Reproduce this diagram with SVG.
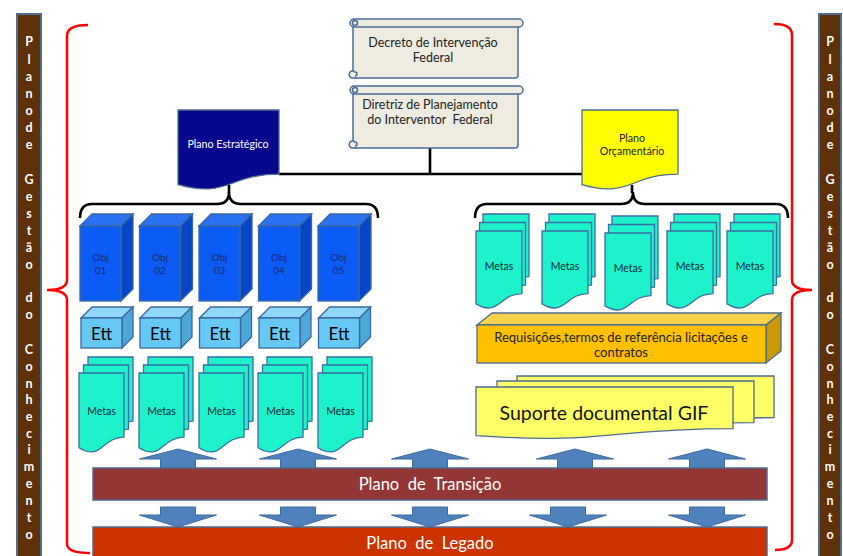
<svg xmlns="http://www.w3.org/2000/svg" xmlns:xlink="http://www.w3.org/1999/xlink" width="843" height="556" viewBox="0 0 843 556">
<style>
  .bar{fill:#5E3108;stroke:#4F6B8F;stroke-width:2}
  .barT{font-family:Lato,"Liberation Sans",sans-serif;font-weight:bold;font-size:12.5px;fill:#fff;text-anchor:middle}
  .scroll{fill:#EEECE1;stroke:#4A6C9B;stroke-width:1.5}
  .t{font-family:Lato,"Liberation Sans",sans-serif;text-anchor:middle}
  .blk{fill:none;stroke:#000;stroke-width:2.6}
  .red{fill:none;stroke:#FF0000;stroke-width:2.5}
  .bs{stroke:#3A67A0;stroke-width:1.3}
  .objF{fill:#0A5CF5}.objT{fill:#2A72F2}.objS{fill:#0846C8}
  .ettF{fill:#66C8F5}.ettT{fill:#8FD8FA}.ettS{fill:#4BA8D8}
  .meta{fill:#1DF2CB;stroke:#3A6EA5;stroke-width:1.3}
  .arr{fill:#4F81BD;stroke:#3C6AA0;stroke-width:1}
  .ot{font-size:10px;fill:#1B2A6B}
  .mt{font-size:10.5px;fill:#10283F}
</style>
<defs>
  <path id="docL" d="M0,0 H45 V64.2 C22.5,64.2 22.5,88.6 0,74.7 Z"/>
  <path id="docR" d="M0,0 H46 V62.6 C23,62.6 23,86.3 0,72.9 Z"/>
  <path id="docS" d="M0,0 H257 V41.7 C128.5,41.7 128.5,57.6 0,48.6 Z"/>
  <g id="metasL">
    <use xlink:href="#docL" class="meta" transform="translate(9,-16)"/>
    <use xlink:href="#docL" class="meta" transform="translate(4.5,-8)"/>
    <use xlink:href="#docL" class="meta"/>
  </g>
  <g id="metasR">
    <use xlink:href="#docR" class="meta" transform="translate(7,-17)"/>
    <use xlink:href="#docR" class="meta" transform="translate(3.5,-8.5)"/>
    <use xlink:href="#docR" class="meta"/>
  </g>
  <g id="objBox">
    <polygon class="objT bs" points="0,0 12,-12 53,-12 41,0"/>
    <polygon class="objS bs" points="41,0 53,-12 53,63 41,75"/>
    <rect class="objF bs" x="0" y="0" width="41" height="75"/>
  </g>
  <g id="ettBox">
    <polygon class="ettT bs" points="0,0 11,-11 52,-11 41,0"/>
    <polygon class="ettS bs" points="41,0 52,-11 52,19 41,30"/>
    <rect class="ettF bs" x="0" y="0" width="41" height="30"/>
  </g>
  <polygon id="upA" class="arr" points="-38.5,459 0,449 38.5,459 17.5,459 17.5,468 -17.5,468 -17.5,459"/>
  <polygon id="dnA" class="arr" points="-17.5,507 17.5,507 17.5,515 38.5,515 0,527 -38.5,515 -17.5,515"/>
</defs>
<rect width="843" height="556" fill="#fff"/>

<g id="bar-left">
  <rect class="bar" x="17" y="14" width="24" height="552"/>
  <text class="barT"><tspan x="29" y="46">P</tspan><tspan x="29" y="64">l</tspan><tspan x="29" y="81">a</tspan><tspan x="29" y="98">n</tspan><tspan x="29" y="115">o</tspan><tspan x="29" y="132">d</tspan><tspan x="29" y="149">e</tspan><tspan x="29" y="184">G</tspan><tspan x="29" y="201">e</tspan><tspan x="29" y="218">s</tspan><tspan x="29" y="235">t</tspan><tspan x="29" y="252">ã</tspan><tspan x="29" y="269">o</tspan><tspan x="29" y="302">d</tspan><tspan x="29" y="319">o</tspan><tspan x="29" y="354">C</tspan><tspan x="29" y="371">o</tspan><tspan x="29" y="388">n</tspan><tspan x="29" y="404">h</tspan><tspan x="29" y="421">e</tspan><tspan x="29" y="438">c</tspan><tspan x="29" y="454">i</tspan><tspan x="29" y="471">m</tspan><tspan x="29" y="488">e</tspan><tspan x="29" y="505">n</tspan><tspan x="29" y="522">t</tspan><tspan x="29" y="539">o</tspan></text>
</g>
<g id="bar-right">
  <rect class="bar" x="819" y="14" width="22" height="552"/>
  <text class="barT"><tspan x="830" y="46">P</tspan><tspan x="830" y="64">l</tspan><tspan x="830" y="81">a</tspan><tspan x="830" y="98">n</tspan><tspan x="830" y="115">o</tspan><tspan x="830" y="132">d</tspan><tspan x="830" y="149">e</tspan><tspan x="830" y="184">G</tspan><tspan x="830" y="201">e</tspan><tspan x="830" y="218">s</tspan><tspan x="830" y="235">t</tspan><tspan x="830" y="252">ã</tspan><tspan x="830" y="269">o</tspan><tspan x="830" y="302">d</tspan><tspan x="830" y="319">o</tspan><tspan x="830" y="354">C</tspan><tspan x="830" y="371">o</tspan><tspan x="830" y="388">n</tspan><tspan x="830" y="404">h</tspan><tspan x="830" y="421">e</tspan><tspan x="830" y="438">c</tspan><tspan x="830" y="454">i</tspan><tspan x="830" y="471">m</tspan><tspan x="830" y="488">e</tspan><tspan x="830" y="505">n</tspan><tspan x="830" y="522">t</tspan><tspan x="830" y="539">o</tspan></text>
</g>

<g id="red-braces">
  <path class="red" d="M88,25 Q67,25 67,36 V280 Q67,290 47,290 Q67,290 67,300 V544 Q67,553 90,553"/>
  <path class="red" d="M774,24 Q792,24 792,35 V280 Q792,290 812,290 Q792,290 792,300 V540 Q792,550 775,550"/>
</g>

<g id="connectors">
  <path class="blk" d="M430,148 V174"/>
  <path class="blk" d="M279,174 H582"/>
  <path class="blk" d="M229,185 V193"/>
  <path class="blk" d="M632,185 V193"/>
  <path class="blk" d="M80,218 Q80,204 92,204 H217 Q229,204 229,192 Q229,204 241,204 H366 Q378,204 378,218"/>
  <path class="blk" d="M475,218 Q475,204 487,204 H621 Q633,204 633,192 Q633,204 645,204 H776 Q788,204 788,218"/>
</g>

<g id="decreto">
  <rect class="scroll" x="353" y="23" width="165" height="55" rx="3"/>
  <rect class="scroll" x="350" y="19" width="173" height="8" rx="4"/>
  <circle class="scroll" cx="355" cy="23" r="2.5"/>
  <path class="scroll" d="M357,78 H352 A3.5,3.5 0 1 1 355,72 A2,2 0 0 1 355,76"/>
  <text class="t" font-size="12.5" fill="#222" x="433" y="47">Decreto de Intervenção</text>
  <text class="t" font-size="12.5" fill="#222" x="433" y="62">Federal</text>
</g>
<g id="diretriz">
  <rect class="scroll" x="353" y="90" width="165" height="58" rx="3"/>
  <rect class="scroll" x="350" y="86" width="173" height="8" rx="4"/>
  <circle class="scroll" cx="355" cy="90" r="2.5"/>
  <path class="scroll" d="M357,148 H352 A3.5,3.5 0 1 1 355,142 A2,2 0 0 1 355,146"/>
  <text class="t" font-size="12.5" fill="#222" x="430" y="109">Diretriz de Planejamento</text>
  <text class="t" font-size="12.5" fill="#222" x="430" y="124" xml:space="preserve">do Interventor  Federal</text>
</g>

<g id="plano-estrategico">
  <path d="M178,110 H279 V174.2 C228.5,174.2 228.5,198.6 178,184.7 Z" fill="#08088E" stroke="#4F6B8F" stroke-width="1.3"/>
  <text class="t" font-size="10.7" fill="#fff" x="228" y="147.5">Plano Estratégico</text>
</g>
<g id="plano-orcamentario">
  <path d="M582,110 H678 V174.2 C630,174.2 630,198.6 582,184.7 Z" fill="#FFFF00" stroke="#4F6B8F" stroke-width="1.3"/>
  <text class="t" font-size="10.7" fill="#222" x="632" y="141.5">Plano</text>
  <text class="t" font-size="10.7" fill="#222" x="632" y="155">Orçamentário</text>
</g>

<g id="obj01"><use xlink:href="#objBox" x="80" y="226"/><text class="t ot" x="100.5" y="261">Obj</text><text class="t ot" x="100.5" y="274">01</text></g>
<g id="obj02"><use xlink:href="#objBox" x="139.5" y="226"/><text class="t ot" x="160" y="261">Obj</text><text class="t ot" x="160" y="274">02</text></g>
<g id="obj03"><use xlink:href="#objBox" x="199" y="226"/><text class="t ot" x="219.5" y="261">Obj</text><text class="t ot" x="219.5" y="274">03</text></g>
<g id="obj04"><use xlink:href="#objBox" x="258.5" y="226"/><text class="t ot" x="279" y="261">Obj</text><text class="t ot" x="279" y="274">04</text></g>
<g id="obj05"><use xlink:href="#objBox" x="318" y="226"/><text class="t ot" x="338.5" y="261">Obj</text><text class="t ot" x="338.5" y="274">05</text></g>

<g id="ett01"><use xlink:href="#ettBox" x="81" y="318"/><text class="t" font-size="17" fill="#000" x="101.5" y="340">Ett</text></g>
<g id="ett02"><use xlink:href="#ettBox" x="140" y="318"/><text class="t" font-size="17" fill="#000" x="160.5" y="340">Ett</text></g>
<g id="ett03"><use xlink:href="#ettBox" x="199.5" y="318"/><text class="t" font-size="17" fill="#000" x="220" y="340">Ett</text></g>
<g id="ett04"><use xlink:href="#ettBox" x="259" y="318"/><text class="t" font-size="17" fill="#000" x="279.5" y="340">Ett</text></g>
<g id="ett05"><use xlink:href="#ettBox" x="318.5" y="318"/><text class="t" font-size="17" fill="#000" x="339" y="340">Ett</text></g>

<g id="metasL1"><use xlink:href="#metasL" x="79" y="373"/><text class="t mt" x="101.5" y="415">Metas</text></g>
<g id="metasL2"><use xlink:href="#metasL" x="139" y="373"/><text class="t mt" x="161.5" y="415">Metas</text></g>
<g id="metasL3"><use xlink:href="#metasL" x="199" y="373"/><text class="t mt" x="221.5" y="415">Metas</text></g>
<g id="metasL4"><use xlink:href="#metasL" x="258" y="373"/><text class="t mt" x="280.5" y="415">Metas</text></g>
<g id="metasL5"><use xlink:href="#metasL" x="318" y="373"/><text class="t mt" x="340.5" y="415">Metas</text></g>

<g id="metasR1"><use xlink:href="#metasR" x="476" y="231"/><text class="t mt" x="499" y="270">Metas</text></g>
<g id="metasR2"><use xlink:href="#metasR" x="542" y="231"/><text class="t mt" x="565" y="270">Metas</text></g>
<g id="metasR3"><use xlink:href="#metasR" x="605" y="233"/><text class="t mt" x="628" y="272">Metas</text></g>
<g id="metasR4"><use xlink:href="#metasR" x="667" y="231"/><text class="t mt" x="690" y="270">Metas</text></g>
<g id="metasR5"><use xlink:href="#metasR" x="727" y="231"/><text class="t mt" x="750" y="270">Metas</text></g>

<g id="requisicoes">
  <polygon points="477,325 492,313 781,313 766,325" fill="#FFD24D" stroke="#4F6B8F" stroke-width="1.3"/>
  <polygon points="766,325 781,313 781,351 766,363" fill="#CC9A00" stroke="#4F6B8F" stroke-width="1.3"/>
  <rect x="477" y="325" width="289" height="38" fill="#FFC000" stroke="#4F6B8F" stroke-width="1.3"/>
  <text class="t" font-size="13" fill="#222" x="621" y="341.5">Requisições,termos de referência licitações e</text>
  <text class="t" font-size="13" fill="#222" x="621" y="356.5">contratos</text>
</g>

<g id="suporte">
  <use xlink:href="#docS" x="517" y="376" fill="#FFFF66" stroke="#4F6B8F" stroke-width="1.3"/>
  <use xlink:href="#docS" x="497" y="381" fill="#FFFF66" stroke="#4F6B8F" stroke-width="1.3"/>
  <use xlink:href="#docS" x="476" y="387" fill="#FFFF66" stroke="#4F6B8F" stroke-width="1.3"/>
  <text class="t" font-size="19.5" fill="#111" x="604" y="420">Suporte documental GIF</text>
</g>

<g id="arrows">
  <use xlink:href="#upA" x="178"/><use xlink:href="#upA" x="298"/><use xlink:href="#upA" x="430"/><use xlink:href="#upA" x="575"/><use xlink:href="#upA" x="707"/>
  <use xlink:href="#dnA" x="178"/><use xlink:href="#dnA" x="298"/><use xlink:href="#dnA" x="430"/><use xlink:href="#dnA" x="568"/><use xlink:href="#dnA" x="707"/>
</g>

<g id="plano-transicao">
  <rect x="93" y="468" width="674" height="32" fill="#943634" stroke="#4F6B8F" stroke-width="1.5"/>
  <text class="t" font-size="16.5" fill="#fff" x="430" y="489.5" xml:space="preserve">Plano  de  Transição</text>
</g>
<g id="plano-legado">
  <rect x="93" y="527" width="674" height="40" fill="#CC3300" stroke="#4F6B8F" stroke-width="1.5"/>
  <text class="t" font-size="16.5" fill="#fff" x="430" y="548.5" xml:space="preserve">Plano  de  Legado</text>
</g>
</svg>
